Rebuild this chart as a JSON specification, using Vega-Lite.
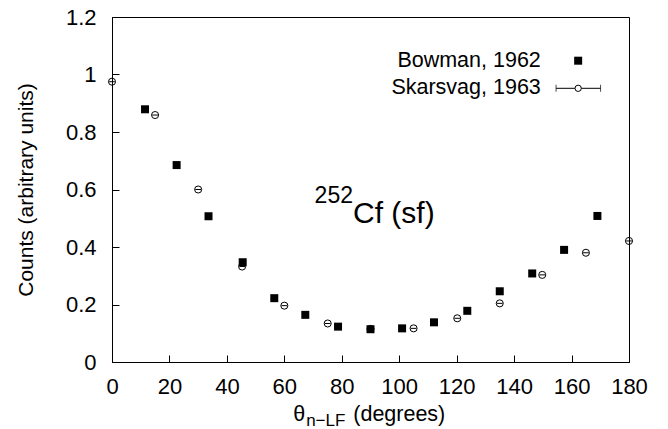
{
  "$schema": "https://vega.github.io/schema/vega-lite/v6.json",
  "width": 517,
  "height": 345,
  "autosize": {"type": "none"},
  "padding": {"left": 112, "top": 17, "right": 39, "bottom": 67},
  "background": "white",
  "config": {
    "font": "Liberation Sans",
    "view": {"stroke": "black", "strokeWidth": 1}
  },
  "datasets": {
    "bowman": [
      {"theta": 11.5, "counts": 0.879}, {"theta": 22.5, "counts": 0.685}, {"theta": 33.6, "counts": 0.507},
      {"theta": 45.5, "counts": 0.347}, {"theta": 56.5, "counts": 0.222}, {"theta": 67.3, "counts": 0.164},
      {"theta": 78.7, "counts": 0.123}, {"theta": 90, "counts": 0.114}, {"theta": 101, "counts": 0.117},
      {"theta": 112.1, "counts": 0.138}, {"theta": 123.7, "counts": 0.178}, {"theta": 135, "counts": 0.246},
      {"theta": 146.3, "counts": 0.308}, {"theta": 157.4, "counts": 0.39}, {"theta": 169, "counts": 0.508}
    ],
    "skarsvag": [
      {"theta": 0, "lo": -1, "hi": 1, "counts": 0.975}, {"theta": 15, "lo": 14, "hi": 16, "counts": 0.859},
      {"theta": 30, "lo": 29, "hi": 31, "counts": 0.6}, {"theta": 45.3, "lo": 44.3, "hi": 46.3, "counts": 0.332},
      {"theta": 60, "lo": 59, "hi": 61, "counts": 0.196}, {"theta": 75.1, "lo": 74.1, "hi": 76.1, "counts": 0.134},
      {"theta": 90, "lo": 89, "hi": 91, "counts": 0.115}, {"theta": 105, "lo": 104, "hi": 106, "counts": 0.117},
      {"theta": 120.2, "lo": 119.2, "hi": 121.2, "counts": 0.152}, {"theta": 135, "lo": 134, "hi": 136, "counts": 0.204},
      {"theta": 149.8, "lo": 148.8, "hi": 150.8, "counts": 0.303}, {"theta": 165, "lo": 164, "hi": 166, "counts": 0.38},
      {"theta": 180, "lo": 179, "hi": 181, "counts": 0.421}
    ],
    "legendText": [
      {"x": 149.3, "y": 1.048, "label": "Bowman, 1962"},
      {"x": 149.3, "y": 0.952, "label": "Skarsvag, 1963"}
    ],
    "legendSquare": [{"x": 162.3, "y": 1.048}],
    "legendCircle": [{"x": 162.3, "lo": 154.6, "hi": 170.1, "y": 0.952}],
    "legendCaps": [{"x": 154.6, "y": 0.952}, {"x": 170.1, "y": 0.952}],
    "isoSup": [{"x": 83.9, "y": 0.552, "label": "252"}],
    "isoMain": [{"x": 83.9, "y": 0.4845, "label": "Cf (sf)"}],
    "xTitleMain": [{"x": 63.1, "y": -0.205, "label": "θ"}, {"x": 84.0, "y": -0.205, "label": "(degrees)"}],
    "xTitleSub": [{"x": 67.6, "y": -0.222, "label": "n−LF"}]
  },
  "layer": [
    {
      "data": {"name": "bowman"},
      "mark": {"type": "point", "shape": "square", "filled": true, "color": "black", "size": 64, "opacity": 1},
      "encoding": {
        "x": {"field": "theta", "type": "quantitative", "scale": {"domain": [0, 180], "nice": false, "zero": false},
          "axis": {"values": [0,5,10,15,20,25,30,35,40,45,50,55,60,65,70,75,80,85,90,95,100,105,110,115,120,125,130,135,140,145,150,155,160,165,170,175,180],
            "labelExpr": "datum.value % 20 === 0 ? datum.label : ''",
            "grid": false, "domainColor": "black", "tickColor": "black", "tickSize": -7,
            "tickDash": {"condition": {"test": "datum.value % 20 !== 0", "value": [4, 40]}, "value": [40, 0]},
            "labelPadding": 21, "labelFlush": false, "labelOverlap": false, "labelColor": "black", "labelFontSize": 22, "labelFont": "Liberation Sans", "title": null}},
        "y": {"field": "counts", "type": "quantitative", "scale": {"domain": [0, 1.2], "nice": false, "zero": false},
          "axis": {"values": [0,0.05,0.1,0.15,0.2,0.25,0.3,0.35,0.4,0.45,0.5,0.55,0.6,0.65,0.7,0.75,0.8,0.85,0.9,0.95,1,1.05,1.1,1.15,1.2],
            "labelExpr": "abs(datum.value * 5 - round(datum.value * 5)) < 0.001 ? format(datum.value, '~g') : ''",
            "grid": false, "domainColor": "black", "tickColor": "black", "tickSize": -7,
            "tickDash": {"condition": {"test": "abs(datum.value * 5 - round(datum.value * 5)) > 0.001", "value": [4, 40]}, "value": [40, 0]},
            "labelPadding": 23, "labelFlush": false, "labelOverlap": false, "labelColor": "black", "labelFontSize": 22, "labelFont": "Liberation Sans",
            "title": "Counts (arbitrary units)", "titleColor": "black", "titleFont": "Liberation Sans", "titleFontWeight": "normal", "titleFontSize": 21, "titleX": -80, "titleY": 172.5, "titleBaseline": "alphabetic", "titleAngle": -90}}
      }
    },
    {
      "data": {"name": "skarsvag"},
      "mark": {"type": "point", "shape": "circle", "filled": false, "stroke": "black", "strokeWidth": 1, "size": 50, "opacity": 1},
      "encoding": {
        "x": {"field": "theta", "type": "quantitative", "scale": {"domain": [0, 180], "nice": false, "zero": false}},
        "y": {"field": "counts", "type": "quantitative", "scale": {"domain": [0, 1.2], "nice": false, "zero": false}}
      }
    },
    {
      "data": {"name": "skarsvag"},
      "mark": {"type": "rule", "color": "black", "strokeWidth": 1},
      "encoding": {
        "x": {"field": "lo", "type": "quantitative", "scale": {"domain": [0, 180], "nice": false, "zero": false}},
        "x2": {"field": "hi"},
        "y": {"field": "counts", "type": "quantitative", "scale": {"domain": [0, 1.2], "nice": false, "zero": false}}
      }
    },
    {
      "data": {"name": "isoSup"},
      "mark": {"type": "text", "align": "right", "baseline": "alphabetic", "fontSize": 23, "color": "black"},
      "encoding": {
        "x": {"field": "x", "type": "quantitative", "scale": {"domain": [0, 180], "nice": false, "zero": false}},
        "y": {"field": "y", "type": "quantitative", "scale": {"domain": [0, 1.2], "nice": false, "zero": false}},
        "text": {"field": "label"}
      }
    },
    {
      "data": {"name": "isoMain"},
      "mark": {"type": "text", "align": "left", "baseline": "alphabetic", "fontSize": 30, "color": "black"},
      "encoding": {
        "x": {"field": "x", "type": "quantitative", "scale": {"domain": [0, 180], "nice": false, "zero": false}},
        "y": {"field": "y", "type": "quantitative", "scale": {"domain": [0, 1.2], "nice": false, "zero": false}},
        "text": {"field": "label"}
      }
    },
    {
      "data": {"name": "xTitleMain"},
      "mark": {"type": "text", "align": "left", "baseline": "alphabetic", "fontSize": 21.5, "color": "black"},
      "encoding": {
        "x": {"field": "x", "type": "quantitative", "scale": {"domain": [0, 180], "nice": false, "zero": false}},
        "y": {"field": "y", "type": "quantitative", "scale": {"domain": [0, 1.2], "nice": false, "zero": false}},
        "text": {"field": "label"}
      }
    },
    {
      "data": {"name": "xTitleSub"},
      "mark": {"type": "text", "align": "left", "baseline": "alphabetic", "fontSize": 17, "color": "black"},
      "encoding": {
        "x": {"field": "x", "type": "quantitative", "scale": {"domain": [0, 180], "nice": false, "zero": false}},
        "y": {"field": "y", "type": "quantitative", "scale": {"domain": [0, 1.2], "nice": false, "zero": false}},
        "text": {"field": "label"}
      }
    },
    {
      "data": {"name": "legendText"},
      "mark": {"type": "text", "align": "right", "baseline": "middle", "fontSize": 21.5, "color": "black"},
      "encoding": {
        "x": {"field": "x", "type": "quantitative", "scale": {"domain": [0, 180], "nice": false, "zero": false}},
        "y": {"field": "y", "type": "quantitative", "scale": {"domain": [0, 1.2], "nice": false, "zero": false}},
        "text": {"field": "label"}
      }
    },
    {
      "data": {"name": "legendSquare"},
      "mark": {"type": "point", "shape": "square", "filled": true, "color": "black", "size": 64, "opacity": 1},
      "encoding": {
        "x": {"field": "x", "type": "quantitative", "scale": {"domain": [0, 180], "nice": false, "zero": false}},
        "y": {"field": "y", "type": "quantitative", "scale": {"domain": [0, 1.2], "nice": false, "zero": false}}
      }
    },
    {
      "data": {"name": "legendCircle"},
      "mark": {"type": "rule", "color": "black", "strokeWidth": 1},
      "encoding": {
        "x": {"field": "lo", "type": "quantitative", "scale": {"domain": [0, 180], "nice": false, "zero": false}},
        "x2": {"field": "hi"},
        "y": {"field": "y", "type": "quantitative", "scale": {"domain": [0, 1.2], "nice": false, "zero": false}}
      }
    },
    {
      "data": {"name": "legendCaps"},
      "mark": {"type": "tick", "orient": "vertical", "color": "black", "thickness": 1, "size": 7},
      "encoding": {
        "x": {"field": "x", "type": "quantitative", "scale": {"domain": [0, 180], "nice": false, "zero": false}},
        "y": {"field": "y", "type": "quantitative", "scale": {"domain": [0, 1.2], "nice": false, "zero": false}}
      }
    },
    {
      "data": {"name": "legendCircle"},
      "mark": {"type": "point", "shape": "circle", "filled": true, "fill": "white", "stroke": "black", "strokeWidth": 1, "size": 40, "opacity": 1},
      "encoding": {
        "x": {"field": "x", "type": "quantitative", "scale": {"domain": [0, 180], "nice": false, "zero": false}},
        "y": {"field": "y", "type": "quantitative", "scale": {"domain": [0, 1.2], "nice": false, "zero": false}}
      }
    }
  ]
}
